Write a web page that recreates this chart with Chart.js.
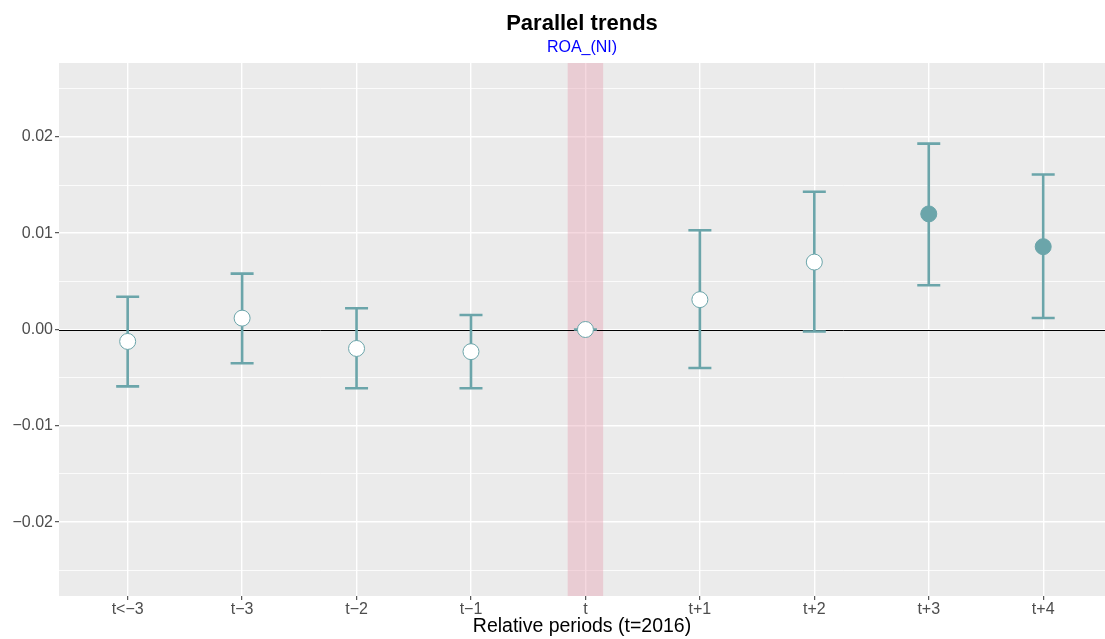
<!DOCTYPE html>
<html>
<head>
<meta charset="utf-8">
<script src="https://cdn.jsdelivr.net/npm/chart.js@4.4.1/dist/chart.umd.min.js"></script>
<style>
  body { margin: 0; background: #fff; }
  canvas { display: block; }
</style>
</head>
<body>
<canvas id="chart" width="1105" height="639"></canvas>
<script>
// relative periods and event-study estimates
const periods = ["t<\u22123", "t\u22123", "t\u22122", "t\u22121", "t", "t+1", "t+2", "t+3", "t+4"];
const estimate = [-0.00124, 0.00118, -0.00197, -0.0023, 0, 0.0031, 0.0070, 0.0120, 0.0086];
const lower = [-0.0059, -0.0035, -0.0061, -0.0061, 0, -0.0040, -0.0002, 0.0046, 0.0012];
const upper = [0.0034, 0.0058, 0.0022, 0.0015, 0, 0.0103, 0.0143, 0.0193, 0.0161];
const yTicks = [-0.025, -0.02, -0.015, -0.01, -0.005, 0, 0.005, 0.01, 0.015, 0.02, 0.025];
const treatIndex = 4;

const teal = "#6ba5aa";
const fontFamily = "'Liberation Sans', Arial, Helvetica, sans-serif";

function isMajor(v) {
  return Math.abs(v * 100 - Math.round(v * 100)) < 1e-9;
}

const points = estimate.map((v, i) => ({ x: i, y: v }));
const fills = estimate.map((v, i) => (lower[i] > 0 || upper[i] < 0) ? teal : "#ffffff");

const panelPlugin = {
  id: "panel",
  beforeDraw(chart) {
    const { ctx, chartArea: a } = chart;
    ctx.save();
    ctx.fillStyle = "#ebebeb";
    ctx.fillRect(a.left, a.top, a.right - a.left, a.bottom - a.top);
    ctx.restore();
  },
  beforeDatasetsDraw(chart) {
    const { ctx, chartArea: a, scales } = chart;
    const xs = scales.x, ys = scales.y;
    const unit = xs.getPixelForValue(1) - xs.getPixelForValue(0);
    ctx.save();
    // treatment year band
    const cx = xs.getPixelForValue(treatIndex);
    ctx.fillStyle = "rgba(230,158,175,0.4)";
    ctx.fillRect(cx - unit * 0.155, a.top, unit * 0.31, a.bottom - a.top);
    // zero line
    const y0 = ys.getPixelForValue(0);
    ctx.strokeStyle = "#000";
    ctx.lineWidth = 1;
    ctx.beginPath();
    ctx.moveTo(a.left, Math.round(y0) + 0.5);
    ctx.lineTo(a.right, Math.round(y0) + 0.5);
    ctx.stroke();
    // error bars
    ctx.strokeStyle = teal;
    ctx.lineWidth = 2.6;
    const half = 11.5;
    periods.forEach((p, i) => {
      const px = xs.getPixelForValue(i);
      const yl = ys.getPixelForValue(lower[i]);
      const yh = ys.getPixelForValue(upper[i]);
      ctx.beginPath();
      ctx.moveTo(px, yl);
      ctx.lineTo(px, yh);
      ctx.moveTo(px - half, yl);
      ctx.lineTo(px + half, yl);
      ctx.moveTo(px - half, yh);
      ctx.lineTo(px + half, yh);
      ctx.stroke();
    });
    ctx.restore();
  },
  afterDraw(chart) {
    const { ctx, chartArea: a } = chart;
    const mid = (a.left + a.right) / 2;
    ctx.save();
    ctx.textAlign = "center";
    ctx.textBaseline = "middle";
    ctx.fillStyle = "#000";
    ctx.font = "bold 22px " + fontFamily;
    ctx.fillText("Parallel trends", mid, 24);
    ctx.fillStyle = "#0000ff";
    ctx.font = "16px " + fontFamily;
    ctx.fillText("ROA_(NI)", mid, 48);
    ctx.restore();
  }
};

new Chart(document.getElementById("chart"), {
  type: "scatter",
  data: {
    datasets: [{
      data: points,
      pointRadius: 8,
      pointHoverRadius: 8,
      pointBackgroundColor: fills,
      pointBorderColor: teal,
      pointBorderWidth: 1
    }]
  },
  options: {
    responsive: false,
    animation: false,
    layout: { autoPadding: false, padding: { top: 63, right: 0, left: 0, bottom: 0 } },
    plugins: {
      legend: { display: false },
      tooltip: { enabled: false }
    },
    scales: {
      x: {
        type: "linear",
        min: -0.6,
        max: periods.length - 1 + 0.54,
        afterBuildTicks(scale) {
          scale.ticks = periods.map((p, i) => ({ value: i }));
        },
        afterFit(scale) {
          scale.height = 43;
          scale.paddingLeft = 0;
          scale.paddingRight = 0;
        },
        border: { display: false },
        grid: {
          color: "#ffffff",
          lineWidth: 1.4,
          tickColor: "#333333",
          tickWidth: 1,
          tickLength: 4
        },
        ticks: {
          autoSkip: false,
          maxRotation: 0,
          padding: 0,
          color: "#4d4d4d",
          font: { family: fontFamily, size: 16 },
          callback: (v) => periods[v]
        },
        title: {
          display: true,
          text: "Relative periods (t=2016)",
          color: "#000",
          font: { family: fontFamily, size: 19.5 },
          padding: { top: 0, bottom: 1 }
        }
      },
      y: {
        type: "linear",
        min: -0.02767,
        max: 0.02767,
        afterBuildTicks(scale) {
          scale.ticks = yTicks.map(v => ({ value: v }));
        },
        afterFit(scale) { scale.width = 59; },
        border: { display: false },
        grid: {
          color: "#ffffff",
          lineWidth: (c) => isMajor(c.tick.value) ? 1.4 : 0.8,
          tickColor: (c) => isMajor(c.tick.value) ? "#333333" : "rgba(0,0,0,0)",
          tickWidth: 1,
          tickLength: 4
        },
        ticks: {
          padding: 2,
          color: "#4d4d4d",
          font: { family: fontFamily, size: 16 },
          callback: (v) => isMajor(v) ? v.toFixed(2).replace("-", "\u2212") : ""
        }
      }
    }
  },
  plugins: [panelPlugin]
});
</script>
</body>
</html>
